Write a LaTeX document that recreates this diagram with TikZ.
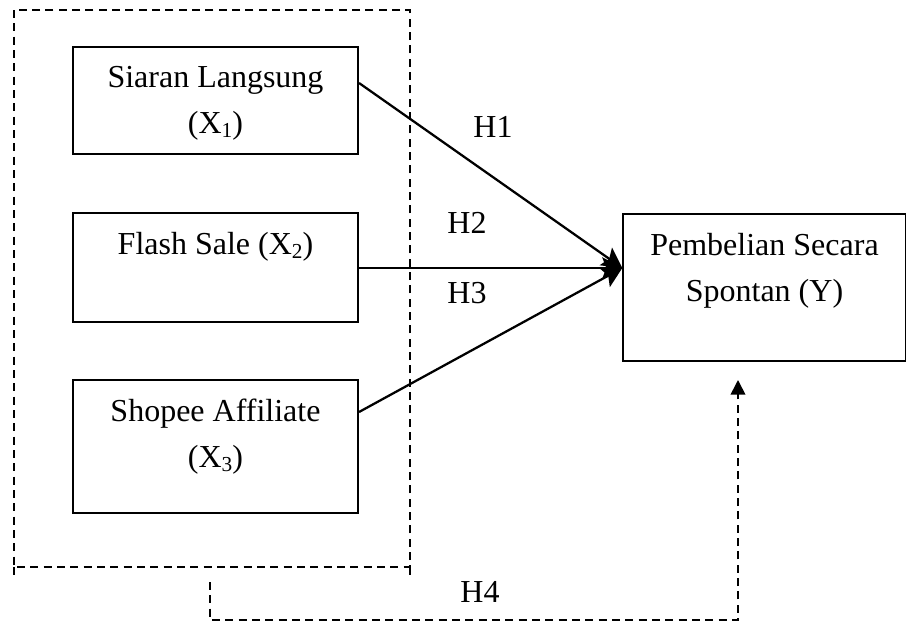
\documentclass[tikz,border=0pt]{standalone}
\usepackage{fontspec}
\setmainfont{Liberation Serif}
\usetikzlibrary{arrows.meta,calc}
\newcommand{\sbx}[1]{\raisebox{-0.25ex}{\fontsize{16}{16}\selectfont #1}}
\begin{document}
\begin{tikzpicture}[x=0.75pt,y=-0.75pt,
  box/.style={draw,line width=1.3pt,minimum width=#1,inner sep=0pt},
  boxtext/.style={anchor=north,align=center,inner sep=0pt,font=\fontsize{24}{34.5}\selectfont},
  lbl/.style={font=\fontsize{24}{28}\selectfont,inner sep=0pt},
  dsh/.style={line width=1.3pt,dash pattern=on 6pt off 4pt},
  arr/.style={line width=1.7pt,-{Stealth[length=15pt,width=16pt,inset=3pt]}}]
\useasboundingbox (0,0) rectangle (906,622);
% outer dashed group
\draw[dsh] (14,10) rectangle (410,567);
\draw[dsh] (14,567) -- (14,578);
\draw[dsh] (410,567) -- (410,578);
% boxes
\node[box, minimum width=214pt, minimum height=80pt] (x1) at (215.5,100.5) {};
\node[box, minimum width=214pt, minimum height=82pt] (x2) at (215.5,267.5) {};
\node[box, minimum width=214pt, minimum height=100pt] (x3) at (215.5,446.5) {};
\node[box, minimum width=212pt, minimum height=110pt] (y) at (764.5,287.5) {};
\node[boxtext] (t1) at ($(x1.north)+(0,20)$) {Siaran Langsung\\(X\sbx{1})};
\node[boxtext] (t2) at ($(x2.north)+(0,20)$) {Flash Sale (X\sbx{2})};
\node[boxtext] (t3) at ($(x3.north)+(0,20)$) {Shopee Affiliate\\(X\sbx{3})};
\node[boxtext] (ty) at ($(y.north)+(0,20)$) {Pembelian Secara\\Spontan (Y)};
% connectors
\coordinate (s1) at (x1.east |- 0,83);
\coordinate (s2) at (x2.east |- 0,268);
\coordinate (s3) at (x3.east |- 0,412);
\coordinate (tin) at (y.west |- 0,268);
\draw[arr] (s1) -- (tin);
\draw[arr] (s2) -- (tin);
\draw[arr] (s3) -- (tin);
\node[lbl] (h1) at (493,127) {H1};
\node[lbl] (h2) at (467,223) {H2};
\node[lbl] (h3) at (467,293) {H3};
% H4
\coordinate (h4s) at (210,582);
\coordinate (h4e) at (738,380);
\draw[dsh,-{Triangle[length=11pt,width=11pt]}] (h4s) -- (210,620) -- (738,620) -- (h4e);
\node[lbl] (h4) at (480,592) {H4};
\end{tikzpicture}
\end{document}
